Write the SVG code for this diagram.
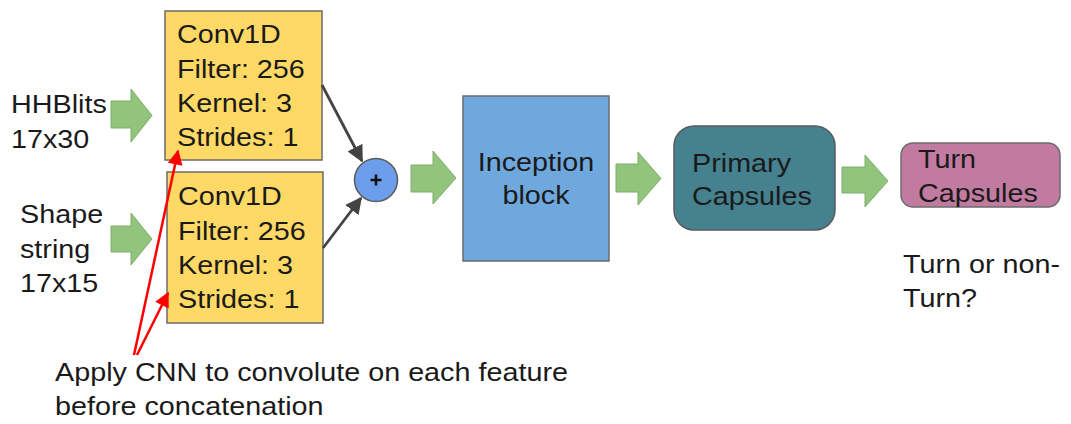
<svg xmlns="http://www.w3.org/2000/svg" width="1071" height="424" viewBox="0 0 1071 424">
  <defs>
    <style>
      .lbl { font-family: "Liberation Sans", Arial, sans-serif; font-size: 25px; fill: #1a1a1a; }
      .conv { fill: #ffd966; stroke: #6b6b6b; stroke-width: 1.5; }
      .blk { fill: #93c47d; stroke: #7fae69; stroke-width: 1; }
      .join { fill: none; stroke: #434343; stroke-width: 2.8; }
      .note { fill: none; stroke: #ff0000; stroke-width: 2.5; }
    </style>
    <marker id="head-dark" viewBox="0 0 10 10" refX="9" refY="5" markerWidth="6" markerHeight="6" orient="auto" markerUnits="strokeWidth">
      <path d="M0,0 L10,5 L0,10 Z" fill="#434343"/>
    </marker>
    <marker id="head-red" viewBox="0 0 10 10" refX="9" refY="5" markerWidth="6.5" markerHeight="6" orient="auto" markerUnits="strokeWidth">
      <path d="M0,0 L10,5 L0,10 Z" fill="#ff0000"/>
    </marker>
  </defs>

  <rect width="1071" height="424" fill="#ffffff"/>

  <!-- input labels -->
  <g id="input-hhblits">
    <text class="lbl" transform="translate(11,113) scale(1.15,1)">HHBlits</text>
    <text class="lbl" transform="translate(11,148) scale(1.15,1)">17x30</text>
  </g>
  <g id="input-shape">
    <text class="lbl" transform="translate(20,223) scale(1.15,1)">Shape</text>
    <text class="lbl" transform="translate(20,258) scale(1.15,1)">string</text>
    <text class="lbl" transform="translate(20,292) scale(1.15,1)">17x15</text>
  </g>

  <!-- convolution blocks -->
  <g id="conv-top">
    <rect class="conv" x="165" y="11" width="157" height="149"/>
    <text class="lbl" transform="translate(177,43) scale(1.15,1)">Conv1D</text>
    <text class="lbl" transform="translate(177,78) scale(1.15,1)">Filter: 256</text>
    <text class="lbl" transform="translate(177,112) scale(1.15,1)">Kernel: 3</text>
    <text class="lbl" transform="translate(177,146) scale(1.15,1)">Strides: 1</text>
  </g>
  <g id="conv-bottom">
    <rect class="conv" x="167" y="172" width="156" height="151"/>
    <text class="lbl" transform="translate(178,205) scale(1.15,1)">Conv1D</text>
    <text class="lbl" transform="translate(178,240) scale(1.15,1)">Filter: 256</text>
    <text class="lbl" transform="translate(178,274) scale(1.15,1)">Kernel: 3</text>
    <text class="lbl" transform="translate(178,308) scale(1.15,1)">Strides: 1</text>
  </g>

  <!-- concatenation -->
  <g id="concat">
    <circle cx="376" cy="180" r="21.5" fill="#6d9eeb" stroke="#5a5a5a" stroke-width="1.5"/>
    <path d="M370.5,180 H381.5 M376,174.5 V185.5" stroke="#111111" stroke-width="2.6"/>
  </g>

  <g id="inception">
    <rect x="463" y="96" width="146" height="165" fill="#6fa8dc" stroke="#6b6b6b" stroke-width="1.5"/>
    <text class="lbl" text-anchor="middle" transform="translate(536,171) scale(1.15,1)">Inception</text>
    <text class="lbl" text-anchor="middle" transform="translate(536,204) scale(1.15,1)">block</text>
  </g>

  <g id="primary-capsules">
    <rect x="674" y="126" width="161" height="104" rx="20" fill="#45818e" stroke="#5a5a5a" stroke-width="1.5"/>
    <text class="lbl" transform="translate(692,172) scale(1.15,1)">Primary</text>
    <text class="lbl" transform="translate(692,205) scale(1.15,1)">Capsules</text>
  </g>

  <g id="turn-capsules">
    <rect x="901" y="143" width="159" height="64" rx="12" fill="#c27ba0" stroke="#6b6b6b" stroke-width="1.5"/>
    <text class="lbl" transform="translate(918,168) scale(1.15,1)">Turn</text>
    <text class="lbl" transform="translate(918,202) scale(1.15,1)">Capsules</text>
  </g>

  <g id="output-label">
    <text class="lbl" transform="translate(903,273) scale(1.15,1)">Turn or non-</text>
    <text class="lbl" transform="translate(903,307) scale(1.15,1)">Turn?</text>
  </g>

  <g id="note">
    <text class="lbl" transform="translate(55,381) scale(1.15,1)">Apply CNN to convolute on each feature</text>
    <text class="lbl" transform="translate(55,415) scale(1.15,1)">before concatenation</text>
  </g>

  <!-- connectors -->
  <g id="connectors">
    <!-- block arrows along the main flow -->
    <path class="blk" d="M111,101 H131 V89 L152,115.5 L131,142 V128 H111 Z"/>
    <path class="blk" d="M111,226 H131 V213 L152,239 L131,265 V252 H111 Z"/>
    <path class="blk" d="M411,165 H433 V151 L456,178 L433,204 V192 H411 Z"/>
    <path class="blk" d="M616,164 H638 V152 L661,178.5 L638,205 V192 H616 Z"/>
    <path class="blk" d="M842,167 H865 V155 L888,181 L865,207 V193 H842 Z"/>

    <!-- conv outputs into concatenation -->
    <line class="join" x1="322" y1="85" x2="362" y2="161" marker-end="url(#head-dark)"/>
    <line class="join" x1="323" y1="248" x2="361" y2="198" marker-end="url(#head-dark)"/>

    <!-- annotation pointers -->
    <line class="note" x1="134" y1="355" x2="178" y2="151" marker-end="url(#head-red)"/>
    <line class="note" x1="137" y1="355" x2="168" y2="293" marker-end="url(#head-red)"/>
  </g>
</svg>
